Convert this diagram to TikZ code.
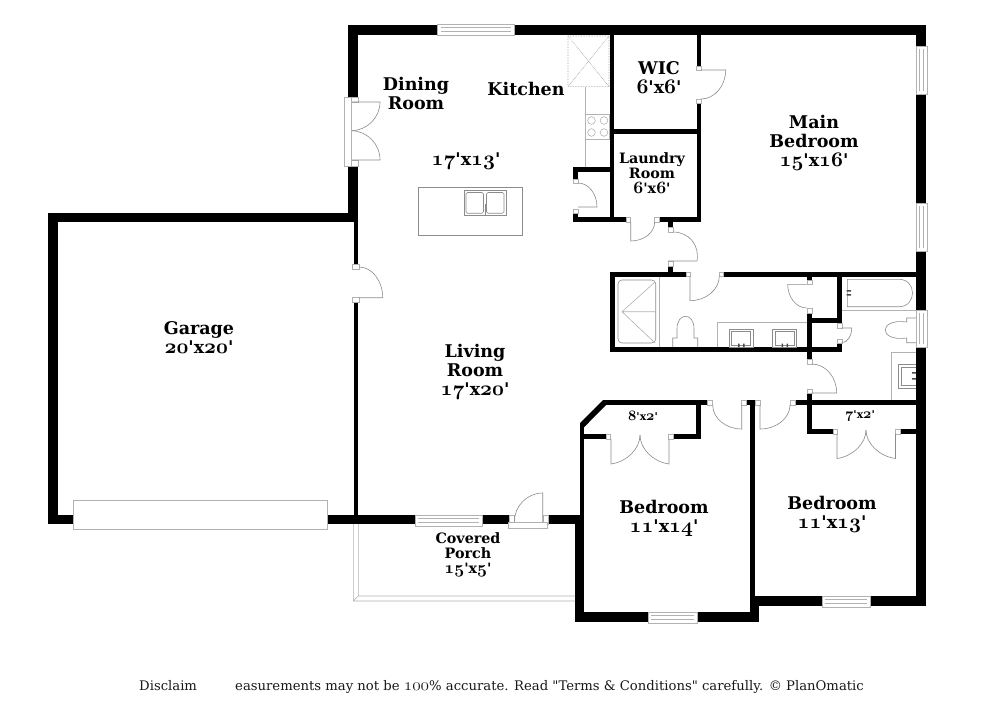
\documentclass[tikz,border=0pt]{standalone}
\usepackage{fontspec}
\setmainfont{DejaVu Serif}
\usetikzlibrary{calc}
\tikzset{
  thinline/.style={draw=black!45,line width=0.6pt},
  lightline/.style={draw=black!30,line width=0.6pt},
  dotline/.style={draw=black!40,line width=0.6pt,densely dotted},
  lab/.style={align=center,font=\fontsize{17.5}{19}\selectfont\bfseries,inner sep=0pt},
  smalllab/.style={align=center,font=\fontsize{14.3}{15}\selectfont\bfseries,inner sep=0pt},
  tinylab/.style={align=center,font=\fontsize{10.8}{11}\selectfont\bfseries,inner sep=0pt},
  foot/.style={font=\fontsize{13.2}{15}\selectfont,inner sep=0pt,text=black!90}
}
\newcommand{\wallbox}[4]{\fill[black] (#1,#2) rectangle (#3,#4);}
\newcommand{\jamb}[4]{\draw[lightline,fill=white] (#1,#2) rectangle (#3,#4);}
\newcommand{\doorleaf}[6]{\draw[thinline] (#1,#2) -- (#3,#4) .. controls ($(#3,#4)+.55*(#5,#6)-.55*(#1,#2)$) and ($(#5,#6)+.55*(#3,#4)-.55*(#1,#2)$) .. (#5,#6);}
\newcommand{\os}[1]{{\fontencoding{OML}\fontfamily{cmm}\fontseries{b}\fontshape{it}\fontsize{1.25\dimexpr\fontdimen6\font\relax}{1em}\selectfont #1}}
\newcommand{\osm}[1]{{\fontencoding{OML}\fontfamily{cmm}\fontseries{m}\fontshape{it}\fontsize{1.25\dimexpr\fontdimen6\font\relax}{1em}\selectfont #1}}
\newcommand{\ap}{\textquotesingle}
\begin{document}
\begin{tikzpicture}[x=1pt,y=-1pt]
\useasboundingbox (0,0) rectangle (1000,727);
\fill[white] (0,0) rectangle (1000,727);
% --- outer and inner walls
\foreach \a/\b/\c/\d in {
 348/25/438/35, 514/25/926/35,
 348/25/358/97, 348/166/358/222, 353.5/213/358/264, 353.5/302.7/358/524,
 48/213/358/222, 48/213/58/524,
 48/515/73/524, 327/515/415/524, 482/515/509/524, 548/515/584/524,
 580/423/584.3/515, 575/515/584.3/622, 575/612/648/622, 697/612/759/622,
 603/400/708/405, 749.5/400/754.5/612, 746.7/400/755.7/405,
 749.5/596/759/622,
 750/596/822/606, 870/596/926/606, 916/25/926/46, 916/94/926/203, 916/251/926/310, 916/347/926/606,
 610/30/614.3/222, 696.7/30/701/66, 696.7/103/701/222, 612/129/698/134,
 573/217/626/222, 659/217/701/222, 573/167/612/172, 573/167/578/179, 573/213/578/222,
 668/222/673/227, 668/266/673/276,
 610/272/686/276.5, 721/272/926/276.5, 610/272/615/352, 610/347/842/352,
 807/313/812/359, 807/276/812/280, 837/276/842/323, 807/318/842/323, 837/343/842/352,
 807/393/812/434, 795/400/926/405, 807/429/833/434, 900/429/916/434,
 696/400/701/439, 673/434/701/439, 584/434/606/439}
 {\wallbox{\a}{\b}{\c}{\d}}
\fill[black] (580,423) -- (603,400) -- (606,405) -- (584.3,427) -- cycle;
% --- jambs
\foreach \a/\b/\c/\d in {
 696.7/66/701/70.5, 696.7/99/701/103,
 573.5/179/578/183.5, 573.5/209/578/213,
 626/217/630.7/222, 654.7/217/659/222,
 668/227/673/232, 668/261/673/266,
 686/272/690/276.5, 719.3/272/723/276.5,
 807/280/812/284.3, 807/308/812/313,
 837/323/842/328, 837/339/842/343,
 807/359/812/364, 807/389/812/393,
 707.7/400/712.7/405, 741.7/400/746.7/405,
 755.7/400/760/405, 790/400/795/405,
 606/434/610.7/439, 668.3/434/673/439,
 833/429/837.3/434, 895.5/429/900/434,
 351/97/358/102, 351/160/358/166,
 352.5/264/359/269, 352.5/297.7/359/302.7,
 509/515/514.3/524, 543/515/548/524}
 {\jamb{\a}{\b}{\c}{\d}}
% --- doors
\doorleaf{701}{70}{725.7}{70}{701}{99}
\doorleaf{578}{207}{597}{207}{578}{183}
\doorleaf{630.7}{222}{630.7}{241}{654.7}{222}
\doorleaf{668}{261}{697}{261}{673}{232}
\doorleaf{690}{276}{690}{300.7}{719.3}{276}
\doorleaf{806.7}{284.3}{787.7}{284.3}{806.7}{308}
\doorleaf{841.7}{328}{851.7}{328}{841.7}{342.7}
\doorleaf{811.7}{393}{836.7}{393}{811.7}{364}
\doorleaf{741.7}{405}{741.7}{429}{712.7}{405}
\doorleaf{760}{405}{760}{429}{790}{405}
\doorleaf{611}{439}{611}{464}{640}{435}
\doorleaf{669}{439}{669}{464}{640}{435}
\doorleaf{837}{434}{837}{458.5}{866}{430}
\doorleaf{895.5}{434}{895.5}{458.5}{866}{430}
\doorleaf{351}{102}{380}{102}{351}{130.7}
\doorleaf{351}{160}{380}{160}{351}{130.7}
\doorleaf{359}{297.7}{382.7}{297.7}{359}{267}
\doorleaf{542.7}{522}{542.7}{493}{514.3}{522}
\draw[lightline,fill=white] (344.3,97) rectangle (351,166);
\draw[lightline,fill=white] (508.3,522.7) rectangle (547.7,528.3);
% --- windows
\foreach \a/\b/\c/\d in {437.7/24/514.3/35.5, 415/515/482/526, 648/612/697/623, 822/596/870/607}
 {\draw[lightline,fill=white] (\a,\b) rectangle (\c,\d);
  \draw[lightline] (\a+3,\b+3.5) -- (\c-3,\b+3.5) (\a+3,\b+7.5) -- (\c-3,\b+7.5);}
\foreach \a/\b/\c/\d in {916/46/927/94, 916/203/927/251, 916/310/927/347}
 {\draw[lightline,fill=white] (\a,\b) rectangle (\c,\d);
  \draw[lightline] (\a+3.5,\b+3) -- (\a+3.5,\d-3) (\a+7.5,\b+3) -- (\a+7.5,\d-3);}
\draw[lightline,fill=white] (73,500) rectangle (327,529);
% --- kitchen
\draw[dotline] (568,36) rectangle (609,86.7) (568,36) -- (609,86.7) (609,36) -- (568,86.7);
\draw[lightline] (585.7,86.7) -- (585.7,167);
\draw[lightline] (585.7,114) rectangle (609.5,139);
\foreach \p in {591.5,604} \foreach \q in {120.5,132.5} {\draw[lightline] (\p,\q) circle[radius=3.8];}
\draw[thinline] (418,187) rectangle (522,235.7);
\draw[thinline] (464,190.7) rectangle (506,215);
\draw[thinline,rounded corners=1.5pt] (466,192.5) rectangle (483.5,213.3) (486.5,192.5) rectangle (504,213.3);
\draw[thinline] (485,204) -- (485,215);
% --- main bath
\draw[lightline] (659.3,276.7) -- (659.3,347);
\draw[thinline,rounded corners=4pt] (618,280) rectangle (655.7,343);
\draw[lightline] (655,282) -- (622,311.7) -- (655,311.7) (622,311.7) -- (655,343);
\draw[thinline] (672.7,347) -- (672.7,338) -- (677,338) -- (677,329) .. controls (677,312) and (694,312) .. (694,329) -- (694,338) -- (697.7,338) -- (697.7,347);
\draw[lightline] (717.3,347) -- (717.3,322.3) -- (806.7,322.3);
\foreach \a in {729,772.7} {
 \draw[thinline] (\a,329) rectangle (\a+24,347) (\a+2.5,331.5) rectangle (\a+21.5,345);
 \fill[black!70] (\a+9,343.5) rectangle (\a+10.5,347) (\a+14,343.5) rectangle (\a+15.5,347);}
\draw[lightline] (841.7,310.7) -- (916,310.7);
\draw[thinline] (847.3,279.3) -- (899,279.3) .. controls (917,279.3) and (917,306.7) .. (899,306.7) -- (847.3,306.7) -- cycle;
\fill[black!70] (846.5,290) rectangle (851,291.5) (846.5,294) rectangle (851,295.5);
% --- hall bath
\draw[thinline] (916,318) -- (906.7,318) -- (906.7,322) .. controls (878,318) and (878,342) .. (906.7,338) -- (906.7,342.7) -- (916,342.7);
\draw[lightline] (916,352.7) -- (891.7,352.7) -- (891.7,399.5);
\draw[thinline] (916,364.3) -- (898.3,364.3) -- (898.3,388.3) -- (916,388.3) (916,367) -- (901,367) -- (901,385.5) -- (916,385.5);
\fill[black!70] (912,372) rectangle (916,373.5) (912,378) rectangle (916,379.5);
% --- porch
\draw[lightline] (353.3,524) -- (353.3,601) -- (575,601) (358.3,524) -- (358.3,596) -- (575,596) (353.3,601) -- (358.3,596);
% --- labels
\node[lab] (dining) at (416,93) {Dining\\Room};
\node[lab] (kitchen) at (526,89) {Kitchen};
\node[lab] (dim) at (466,161) {\os{17}\ap{}x\os{13}\ap};
\node[lab] (wic) at (659,77.5) {WIC\\\os{6}\ap{}x\os{6}\ap};
\node[smalllab] (laundry) at (652,173) {Laundry\\Room\\\os{6}\ap{}x\os{6}\ap};
\node[lab] (main) at (814,142.5) {Main\\Bedroom\\\os{15}\ap{}x\os{16}\ap};
\node[lab] (garage) at (199,337.5) {Garage\\\os{20}\ap{}x\os{20}\ap};
\node[lab] (living) at (475,371.5) {Living\\Room\\\os{17}\ap{}x\os{20}\ap};
\node[tinylab] (closeta) at (643,416) {\os{8}\ap{}x\os{2}\ap};
\node[tinylab] (closetb) at (860,416) {\os{7}\ap{}x\os{2}\ap};
\node[lab] (beda) at (664,518.5) {Bedroom\\\os{11}\ap{}x\os{14}\ap};
\node[lab] (bedb) at (832,514.5) {Bedroom\\\os{11}\ap{}x\os{13}\ap};
\node[smalllab] (porch) at (468,555) {Covered\\Porch\\\os{15}\ap{}x\os{5}\ap};
\node[foot,anchor=base west] (discl) at (139,690) {Disclaim};
\node[foot,anchor=base west] (rest) at (235,690) {easurements may not be \osm{100}\% accurate. Read \textquotedbl Terms \& Conditions\textquotedbl{} carefully. \textcopyright{} PlanOmatic};
\end{tikzpicture}
\end{document}
